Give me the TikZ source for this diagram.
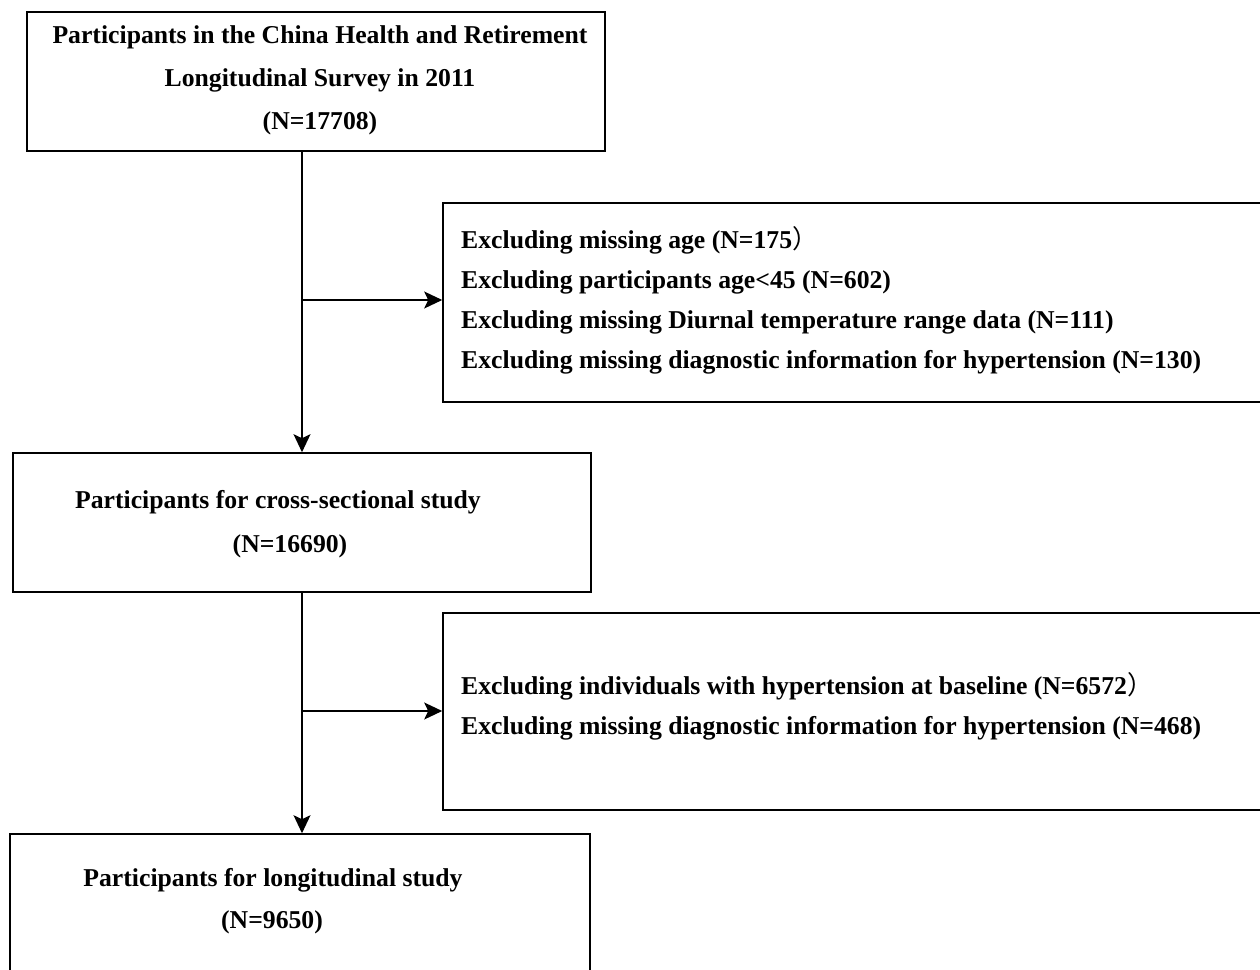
\documentclass[tikz,border=0pt]{standalone}
\usepackage{fontspec}
\setmainfont{Liberation Serif}
\newfontfamily\cjk{Noto Sans CJK SC}
\usetikzlibrary{arrows.meta}
\begin{document}
\begin{tikzpicture}[x=1pt,y=-1pt,
  box/.style={draw, line width=1.6pt, inner sep=0pt},
  txt/.style={font=\bfseries\fontsize{25.7}{43}\selectfont, align=center, inner sep=0pt},
  ltxt/.style={font=\bfseries\fontsize{25.7}{40}\selectfont, align=left, inner sep=0pt, anchor=west},
  conn/.style={line width=1.4pt, -{Stealth[length=18pt,width=17pt,inset=4pt]}}]
\useasboundingbox[fill=white] (0,0) rectangle (1260,969);
\begin{scope}
\clip (0,0) rectangle (1260,969);
% boxes
\node[box, minimum width=578pt, minimum height=139pt] (b1) at (316,81.5) {};
\node[box, minimum width=578pt, minimum height=139pt] (b2) at (302,522.5) {};
\node[box, minimum width=580pt, minimum height=170pt] (b3) at (300,919) {};
\node[box, minimum width=834pt, minimum height=199pt] (e1) at (860,302.5) {};
\node[box, minimum width=834pt, minimum height=197pt] (e2) at (860,711.5) {};
% texts
\node[txt] (t1) at (320,80) {Participants in the China Health and Retirement\\Longitudinal Survey in 2011\\(N=17708)};
\node[txt] (t2a) at (278,502) {Participants for cross-sectional study};
\node[txt] (t2b) at (290,546) {(N=16690)};
\node[txt] (t3a) at (273,880) {Participants for longitudinal study};
\node[txt] (t3b) at (272,922) {(N=9650)};
\node[ltxt] (te1) at (461,300) {Excluding missing age (N=175{\cjk\mdseries ）}\\
Excluding participants age<45 (N=602)\\
Excluding missing Diurnal temperature range data (N=111)\\
Excluding missing diagnostic information for hypertension (N=130)};
\node[ltxt] (te2) at (461,706.5) {Excluding individuals with hypertension at baseline (N=6572{\cjk\mdseries ）}\\
Excluding missing diagnostic information for hypertension (N=468)};
% connectors
\coordinate (j1) at (302,300);
\coordinate (j2) at (302,711);
\draw[conn] (b1.south -| b2.north) -- (b2.north);
\draw[conn] (j1) -- (j1 -| e1.west);
\draw[conn] (b2.south) -- (b2.south |- b3.north);
\draw[conn] (j2) -- (j2 -| e2.west);
\end{scope}
\end{tikzpicture}
\end{document}
